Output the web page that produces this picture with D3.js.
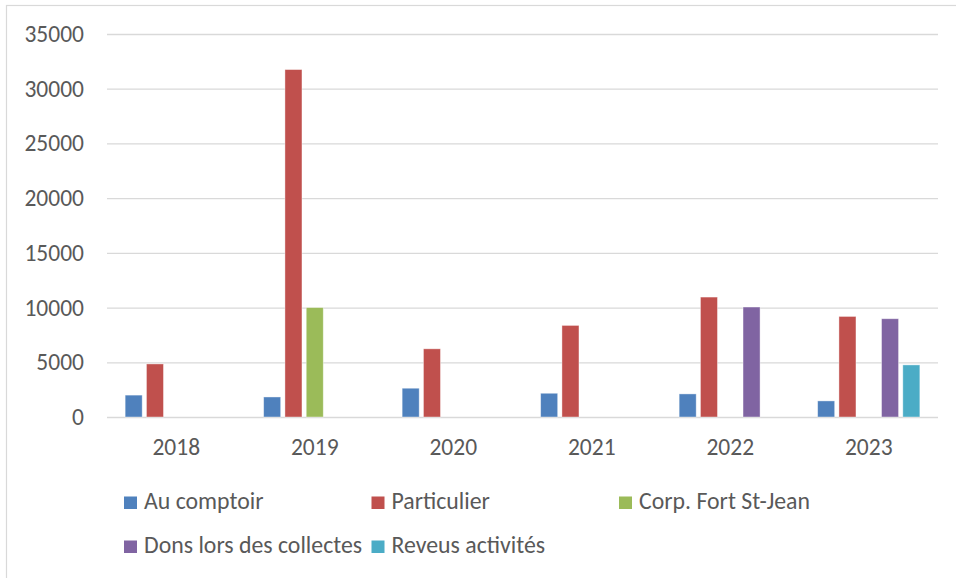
<!DOCTYPE html>
<html>
<head>
<meta charset="utf-8">
<script src="https://cdn.jsdelivr.net/npm/d3@7"></script>
<style>
	body { margin: 0; background: #fff; }
	svg { display: block; }
	text { font-family: Carlito, Calibri, Lato, sans-serif; fill: #595959; }
</style>
</head>
<body>
<div id="svg-div"></div>
<script>
// data
var years = ["2018", "2019", "2020", "2021", "2022", "2023"];
var seriesNames = ["Au comptoir", "Particulier", "Corp. Fort St-Jean", "Dons lors des collectes", "Reveus activités"];
var seriesColors = ["#4F81BD", "#C0504D", "#9BBB59", "#8064A2", "#4BACC6"];
var auComptoir = [2000, 1830, 2630, 2170, 2110, 1470];
var particulier = [4850, 31750, 6230, 8370, 10960, 9190];
var corpFort = [0, 10000, 0, 0, 0, 0];
var dons = [0, 0, 0, 0, 10050, 8980];
var revenus = [0, 0, 0, 0, 0, 4760];
var yTicks = [0, 5000, 10000, 15000, 20000, 25000, 30000, 35000];

var allSeries = [auComptoir, particulier, corpFort, dons, revenus];

var chart = {
	width: 956,
	height: 578,
	plot: { left: 107, right: 938, top: 34, bottom: 417 }
};

var svg = d3.select("#svg-div")
	.append("svg")
	.attr("width", chart.width)
	.attr("height", chart.height);

// outer frame
svg.append("rect")
	.attr("x", 6.5)
	.attr("y", 5.5)
	.attr("width", 1000)
	.attr("height", 700)
	.attr("fill", "none")
	.attr("stroke", "#d9d9d9")
	.attr("stroke-width", 1.2);

// Scales
var x0 = d3.scaleBand()
	.domain(years)
	.range([chart.plot.left, chart.plot.right])
	.paddingInner(0.262)
	.paddingOuter(0.131);

var x1 = d3.scaleBand()
	.domain(d3.range(seriesNames.length))
	.range([0, x0.bandwidth()])
	.paddingInner(0.2);

var yScale = d3.scaleLinear()
	.domain([0, 35000])
	.range([chart.plot.bottom, chart.plot.top]);

// Gridlines
var grid = svg.append("g")
	.attr("transform", "translate(" + chart.plot.left + ",0)")
	.call(d3.axisLeft(yScale)
		.tickValues(yTicks)
		.tickSize(-(chart.plot.right - chart.plot.left))
		.tickFormat(""));
grid.select(".domain").remove();
grid.selectAll("line").attr("stroke", "#d9d9d9").attr("stroke-width", 1.3);

// Y axis labels
var yAxis = svg.append("g")
	.attr("transform", "translate(" + chart.plot.left + ",0)")
	.call(d3.axisLeft(yScale)
		.tickValues(yTicks)
		.tickSize(0)
		.tickPadding(23)
		.tickFormat(d3.format("d")));
yAxis.select(".domain").remove();
yAxis.selectAll("text")
	.attr("font-size", "23.5px")
	.style("font-family", "Carlito, Calibri, Lato, sans-serif")
	.attr("fill", "#595959");

// Bars
var groups = svg.append("g").selectAll("g")
	.data(years)
	.enter()
	.append("g")
	.attr("transform", function(d) { return "translate(" + x0(d) + ",0)"; });

groups.selectAll("rect")
	.data(function(d, i) {
		return allSeries.map(function(s, k) { return { k: k, value: s[i] }; });
	})
	.enter()
	.filter(function(d) { return d.value > 0; })
	.append("rect")
	.attr("x", function(d) { return x1(d.k); })
	.attr("width", x1.bandwidth())
	.attr("y", function(d) { return yScale(d.value); })
	.attr("height", function(d) { return yScale(0) - yScale(d.value); })
	.attr("fill", function(d) { return seriesColors[d.k]; })
	.attr("stroke", "#fff")
	.attr("stroke-opacity", 0.5)
	.attr("stroke-width", 0.8);

// X axis labels
var xAxis = svg.append("g")
	.attr("transform", "translate(0," + chart.plot.bottom + ")")
	.call(d3.axisBottom(x0).tickSize(0).tickPadding(21));
xAxis.select(".domain").remove();
xAxis.selectAll("text")
	.attr("font-size", "23.5px")
	.style("font-family", "Carlito, Calibri, Lato, sans-serif")
	.attr("fill", "#595959");

// Legend
var legend = svg.append("g").selectAll("g")
	.data(seriesNames)
	.enter()
	.append("g")
	.attr("transform", function(d, i) {
		return "translate(" + (124 + (i % 3) * 247.5) + "," + (509 + Math.floor(i / 3) * 44) + ")";
	});

legend.append("rect")
	.attr("x", 0)
	.attr("y", -12.5)
	.attr("width", 13)
	.attr("height", 12.5)
	.attr("fill", function(d, i) { return seriesColors[i]; });

legend.append("text")
	.attr("x", 20)
	.attr("y", 0)
	.attr("font-size", "23.8px")
	.text(function(d) { return d; });
</script>
</body>
</html>
